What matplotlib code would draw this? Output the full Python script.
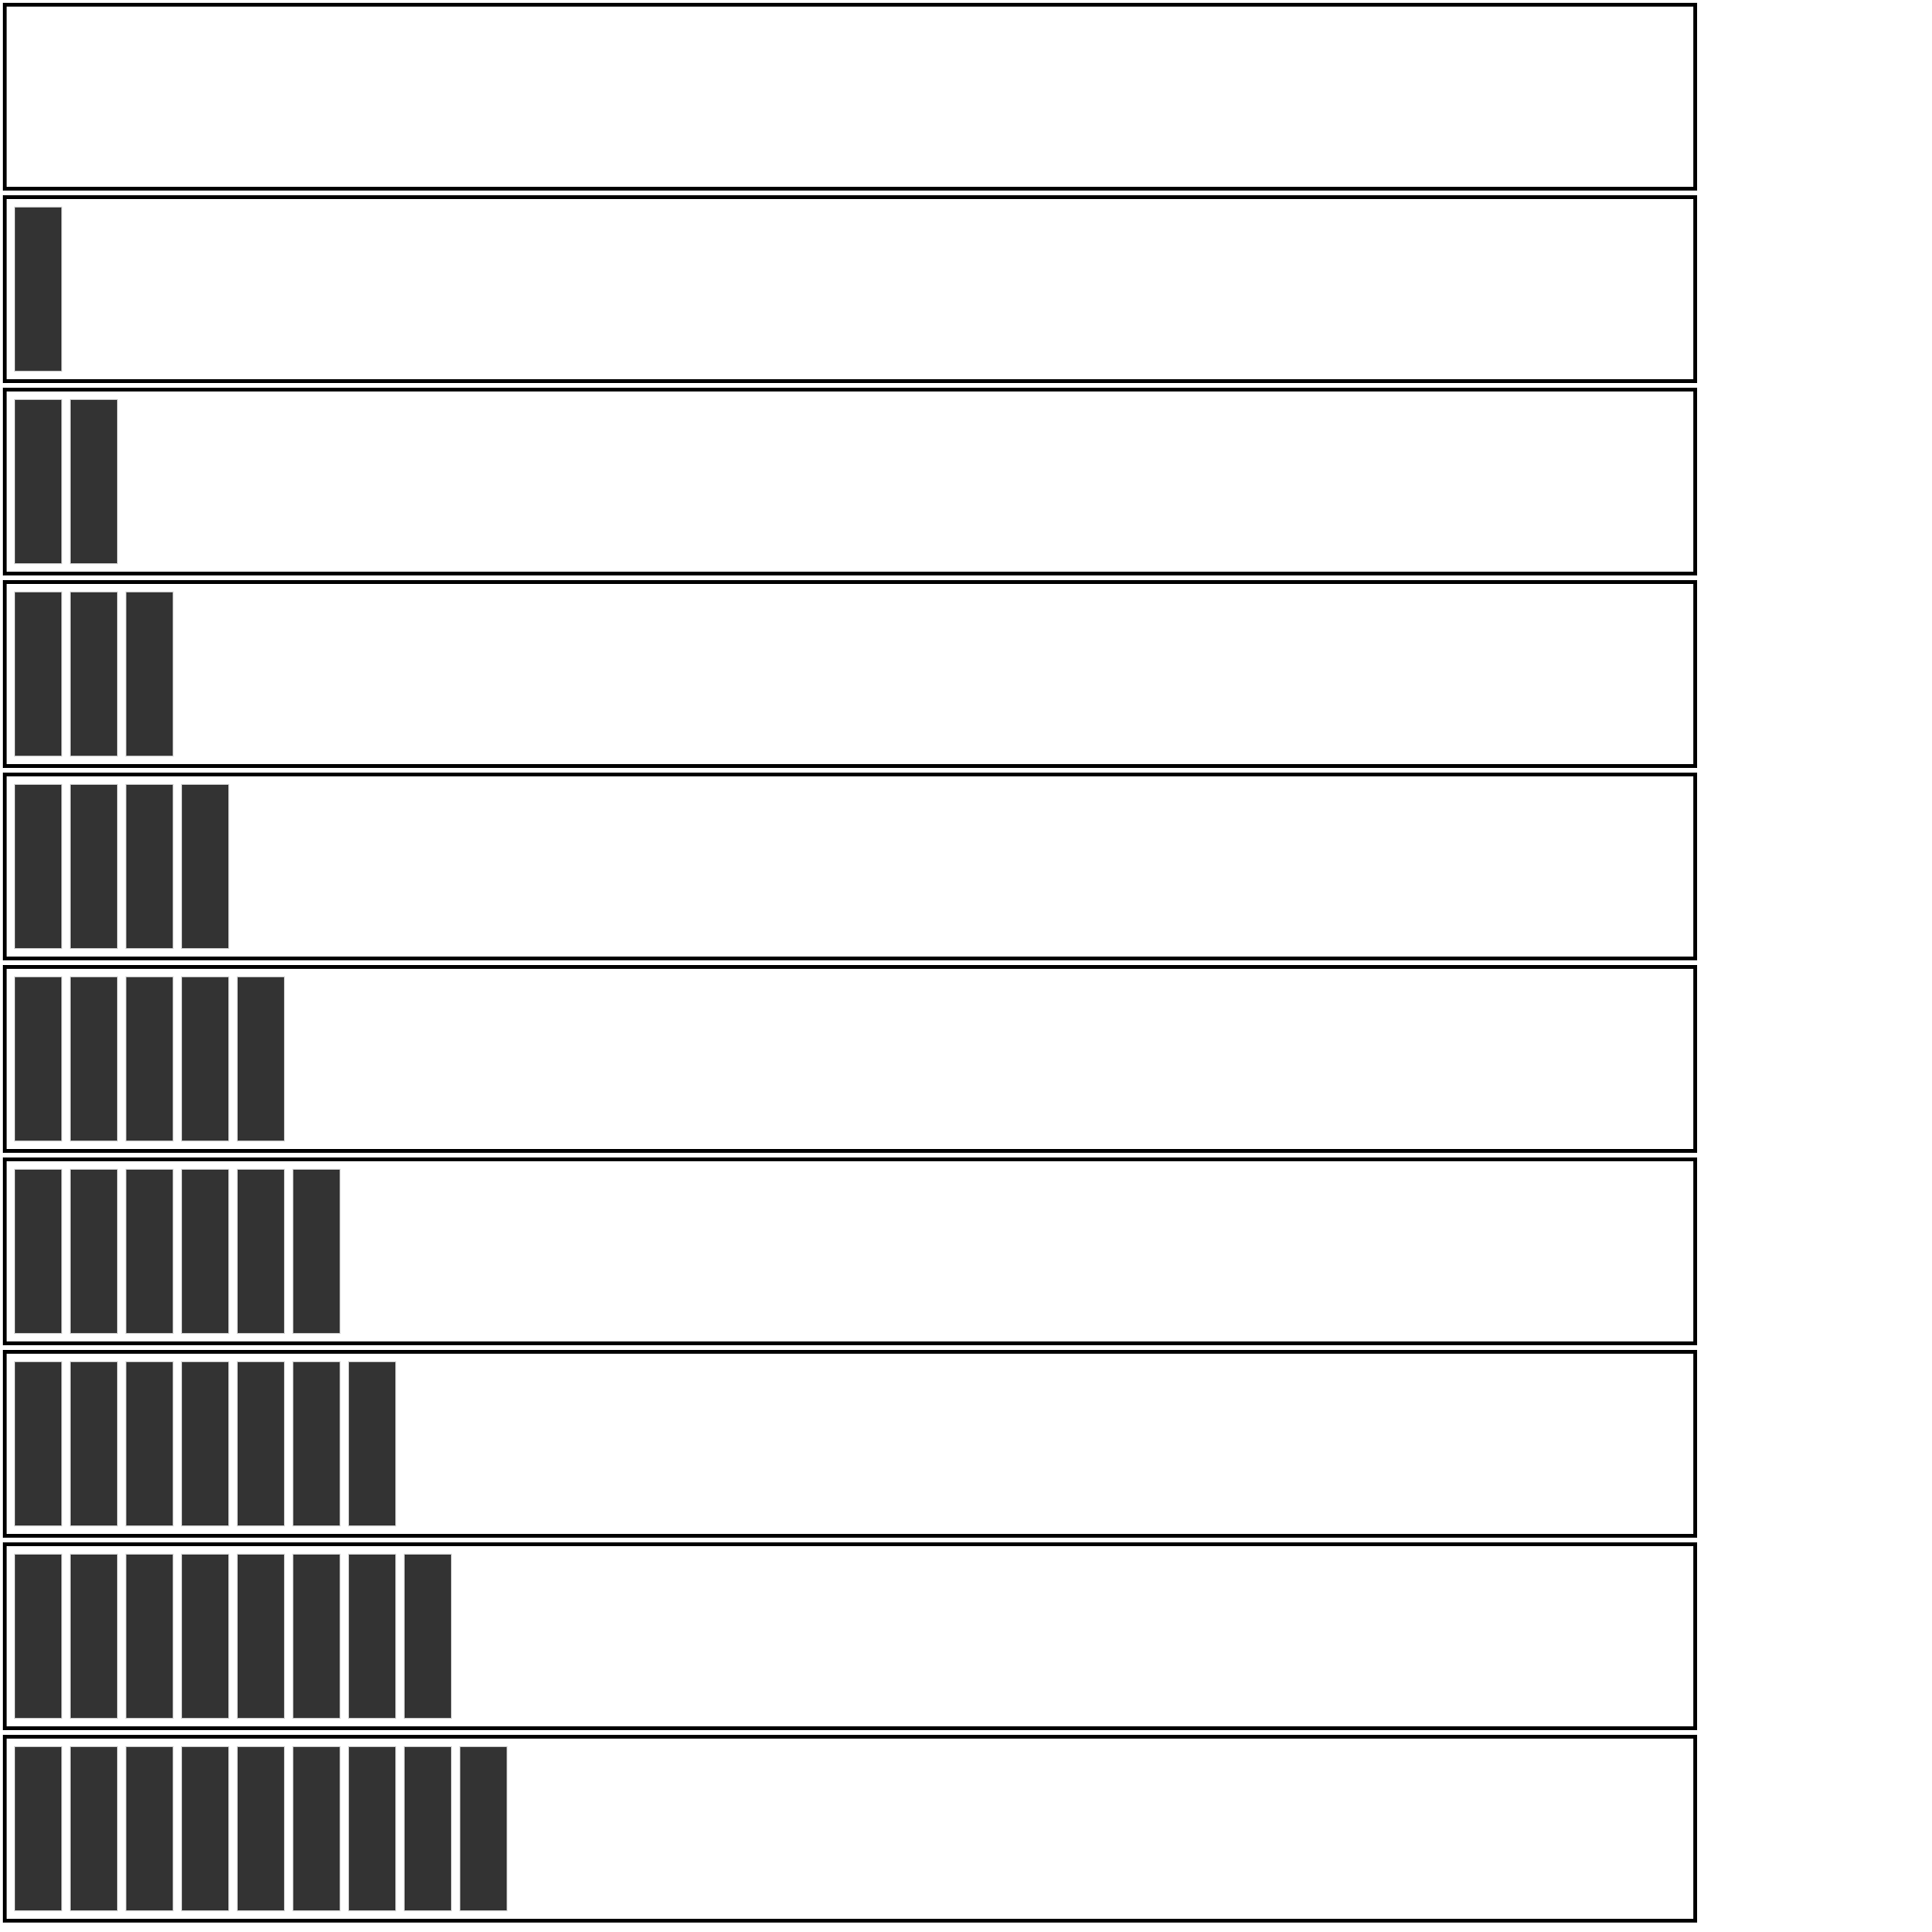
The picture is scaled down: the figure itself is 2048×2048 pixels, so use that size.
import numpy as np
import matplotlib
matplotlib.use("Agg")
import matplotlib.pyplot as plt

# bars drawn in each row, top row first
row_heights = [
    [],
    [1],
    [1, 1],
    [1, 1, 1],
    [1, 1, 1, 1],
    [1, 1, 1, 1, 1],
    [1, 1, 1, 1, 1, 1],
    [1, 1, 1, 1, 1, 1, 1],
    [1, 1, 1, 1, 1, 1, 1, 1],
    [1, 1, 1, 1, 1, 1, 1, 1, 1],
]

W = H = 2048
fig = plt.figure(figsize=(W / 100, H / 100), dpi=100)
fig.patch.set_facecolor("white")

pitch = 59.0      # px between bar starts
bar_w = 50.0      # px
ax_left, ax_right = 5, 1797
ax_w = ax_right - ax_left
row_step = 204
ax_h = 195

for i, heights in enumerate(row_heights):
    top = 5 + row_step * i
    bottom = top + ax_h
    ax = fig.add_axes([ax_left / W, 1 - bottom / H, ax_w / W, ax_h / H])
    x0 = -(10 + bar_w / 2) / pitch
    ax.set_xlim(x0, x0 + ax_w / pitch)
    ax.set_ylim(-11 / 174, 1 + 10 / 174)
    if heights:
        ax.bar(np.arange(len(heights)), heights, width=bar_w / pitch,
               color="#333333", edgecolor="#d8d8d8", linewidth=0.6, align="center")
    for s in ax.spines.values():
        s.set_linewidth(2.9)
        s.set_color("black")
    ax.set_xticks([])
    ax.set_yticks([])

fig.savefig("out.png", dpi=100, facecolor="white")
